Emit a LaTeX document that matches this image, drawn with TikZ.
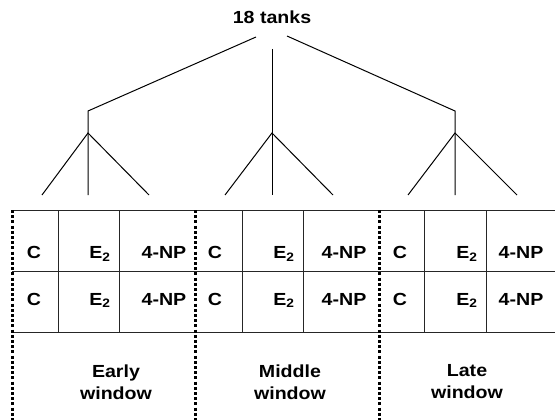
\documentclass[tikz,border=0pt]{standalone}
\usepackage{fontspec}
\setmainfont{Liberation Sans}[FakeStretch=1.12]
\begin{document}
\begin{tikzpicture}[x=1pt,y=-1pt,
	lbl/.style={font=\fontsize{17.5}{22}\selectfont\bfseries, inner sep=0pt},
	branch/.style={line width=1pt},
	cell/.style={line width=0.9pt, black!85},
	window/.style={line width=3pt, dash pattern=on 3pt off 2.2pt}]
	\useasboundingbox (0,0) rectangle (555,420);

	% Top of the tree
	\node[lbl, anchor=base] (tanks) at (272,24) {18 tanks};
	\coordinate (tL) at (256,37);
	\coordinate (tM) at (272,49);
	\coordinate (tR) at (287,36);

	% Three groups of tanks
	%Early
	\coordinate (aTop) at (88,111);
	\coordinate (aFork) at (88,133);
	\coordinate (a1) at (42,195);
	\coordinate (a2) at (88,195);
	\coordinate (a3) at (149,195);
	%Middle
	\coordinate (bFork) at (272,133);
	\coordinate (b1) at (225,195);
	\coordinate (b2) at (272,195);
	\coordinate (b3) at (333,195);
	%Late
	\coordinate (cTop) at (455,111);
	\coordinate (cFork) at (455,133);
	\coordinate (c1) at (408,195);
	\coordinate (c2) at (455,195);
	\coordinate (c3) at (517,195);

	\draw[branch] (tL) -- (aTop) -- (a2);
	\draw[branch] (tM) -- (b2);
	\draw[branch] (tR) -- (cTop) -- (c2);
	\draw[branch] (a1) -- (aFork) -- (a3);
	\draw[branch] (b1) -- (bFork) -- (b3);
	\draw[branch] (c1) -- (cFork) -- (c3);

	% Table
	\coordinate (rowA) at (12,210);
	\coordinate (rowAe) at (555,210);
	\coordinate (rowB) at (12,271);
	\coordinate (rowBe) at (555,271);
	\coordinate (rowC) at (12,332);
	\coordinate (rowCe) at (555,332);
	\draw[cell] (rowA) -- (rowAe);
	\draw[cell] (rowB) -- (rowBe);
	\draw[cell] (rowC) -- (rowCe);
	\foreach \x in {58,119,242,303,424,486}
		\draw[cell] (\x,210) -- (\x,332);

	% Window borders
	\foreach \x in {12,195,379}
		\draw[window] (\x,210) -- (\x,420);

	% Cell labels (on the base line)
	\foreach \y/\r in {258.5/1,305/2}{
		\node[lbl, anchor=base] (cA\r) at (34,\y) {C};
		\node[lbl, anchor=base] (eA\r) at (100,\y) {E\textsubscript{2}};
		\node[lbl, anchor=base] (nA\r) at (164,\y) {4-NP};
		\node[lbl, anchor=base] (cB\r) at (215,\y) {C};
		\node[lbl, anchor=base] (eB\r) at (284,\y) {E\textsubscript{2}};
		\node[lbl, anchor=base] (nB\r) at (344,\y) {4-NP};
		\node[lbl, anchor=base] (cC\r) at (400,\y) {C};
		\node[lbl, anchor=base] (eC\r) at (467,\y) {E\textsubscript{2}};
		\node[lbl, anchor=base] (nC\r) at (521,\y) {4-NP};
	}

	% Window names
	\node[lbl, align=center] (early) at (116,382) {Early\\window};
	\node[lbl, align=center] (middle) at (290,382) {Middle\\window};
	\node[lbl, align=center] (late) at (467,382) {Late\\window};

\end{tikzpicture}
\end{document}
